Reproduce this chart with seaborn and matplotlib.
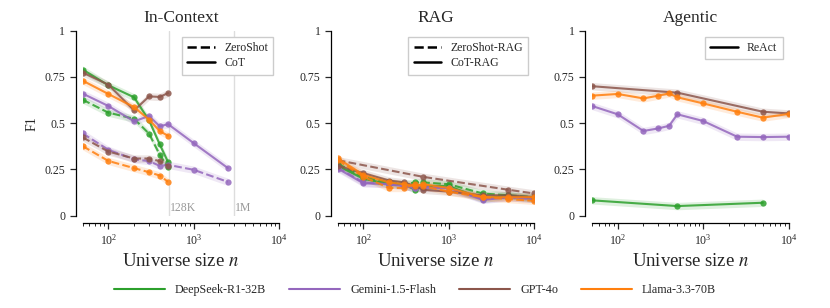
import numpy as np
import matplotlib
matplotlib.use('Agg')
import matplotlib.pyplot as plt
import seaborn as sns
from matplotlib.lines import Line2D

# ---- data ----
models = ['DeepSeek-R1-32B', 'Gemini-1.5-Flash', 'GPT-4o', 'Llama-3.3-70B']
colors = ['#2ca02c', '#9467bd', '#8c564b', '#ff7f0e']

# In-Context
ic_x = [50, 100, 200, 300, 400, 500, 1000, 2500]
ic_cot = {
    'DeepSeek-R1-32B': [0.79, 0.705, 0.64, 0.515, 0.385, 0.29],
    'Gemini-1.5-Flash': [0.66, 0.593, 0.51, 0.539, 0.483, 0.495, 0.392, 0.258],
    'GPT-4o': [0.774, 0.708, 0.569, 0.645, 0.642, 0.663],
    'Llama-3.3-70B': [0.73, 0.658, 0.587, 0.519, 0.457, 0.432],
}
ic_zs = {
    'DeepSeek-R1-32B': [0.627, 0.557, 0.524, 0.443, 0.329, 0.262],
    'Gemini-1.5-Flash': [0.445, 0.356, 0.305, 0.295, 0.269, 0.275, 0.248, 0.183],
    'GPT-4o': [0.423, 0.347, 0.309, 0.309, 0.295, 0.27],
    'Llama-3.3-70B': [0.376, 0.296, 0.257, 0.235, 0.217, 0.183],
}

# RAG
rag_x = [50, 100, 200, 300, 400, 500, 1000, 2500, 5000, 10000]
rag_cot = {
    'DeepSeek-R1-32B': [0.27, 0.20, 0.17, 0.17, 0.14, 0.16, 0.16, 0.09, 0.11, 0.09],
    'Gemini-1.5-Flash': [0.255, 0.175, 0.17, 0.16, 0.15, 0.15, 0.15, 0.085, 0.10, 0.09],
    'GPT-4o': [0.27, 0.23, 0.19, 0.18, 0.16, 0.14, 0.13, 0.11, 0.11, 0.10],
    'Llama-3.3-70B': [0.31, 0.22, 0.18, 0.17, 0.16, 0.17, 0.15, 0.10, 0.10, 0.10],
}
rag_zs = {
    'DeepSeek-R1-32B': [0.28, 0.21, 0.18, 0.17, 0.18, 0.18, 0.17, 0.12, 0.11, 0.10],
    'Gemini-1.5-Flash': [0.26, 0.18, 0.17, 0.16, 0.15, 0.16, 0.15, 0.09, 0.10, 0.09],
    'Llama-3.3-70B': [0.30, 0.21, 0.15, 0.15, 0.17, 0.16, 0.13, 0.10, 0.09, 0.08],
}
rag_gpt_zs_x = [50, 500, 5000, 10000]
rag_gpt_zs = [0.30, 0.21, 0.14, 0.12]

# Agentic (ReAct)
ag_x = [50, 100, 200, 300, 400, 500, 1000, 2500, 5000, 10000]
ag_react = {
    'Gemini-1.5-Flash': [0.593, 0.548, 0.458, 0.472, 0.486, 0.548, 0.512, 0.427, 0.425, 0.427],
    'Llama-3.3-70B': [0.649, 0.658, 0.634, 0.649, 0.661, 0.64, 0.607, 0.562, 0.53, 0.55],
}
ag_gpt_x = [50, 500, 5000, 10000]
ag_gpt = [0.70, 0.665, 0.562, 0.553]
ag_ds_x = [50, 500, 5000]
ag_ds = [0.083, 0.052, 0.07]

yticks = [0, 0.25, 0.5, 0.75, 1]
ytick_labels = ['0', '0.25', '0.5', '0.75', '1']

# ---- style ----
sns.set_theme(style='ticks')
plt.rcParams['font.family'] = ['Liberation Serif', 'DejaVu Serif']
plt.rcParams['mathtext.fontset'] = 'stix'

fig = plt.figure(figsize=(8.3, 3.08), dpi=100)
lefts = [0.0996, 0.4069, 0.7133]
axes = [fig.add_axes([l, 0.2997, 0.2367, 0.6006]) for l in lefts]
band = 0.02


def draw(ax, x, y, color, ls):
    x = x[:len(y)]
    sns.lineplot(x=x, y=y, ax=ax, color=color, linestyle=ls, marker='o',
                 markersize=4.5, markeredgewidth=0, linewidth=1.5, alpha=0.85)
    ax.fill_between(x, np.array(y) - band, np.array(y) + band,
                    color=color, alpha=0.15, linewidth=0)


# In-Context
ax = axes[0]
for m, c in zip(models, colors):
    draw(ax, ic_x, ic_zs[m], c, '--')
    draw(ax, ic_x, ic_cot[m], c, '-')
for xv, lab in [(512, '128K'), (3000, '1M')]:
    ax.axvline(xv, color='#dddddd', linewidth=1, zorder=0)
    ax.text(xv * 1.02, 0.01, lab, color='#999999', fontsize=8.5, va='bottom')

# RAG
ax = axes[1]
for m, c in zip(models, colors):
    if m == 'GPT-4o':
        draw(ax, rag_gpt_zs_x, rag_gpt_zs, c, '--')
    else:
        draw(ax, rag_x, rag_zs[m], c, '--')
    draw(ax, rag_x, rag_cot[m], c, '-')

# Agentic
ax = axes[2]
draw(ax, ag_ds_x, ag_ds, colors[0], '-')
draw(ax, ag_x, ag_react['Gemini-1.5-Flash'], colors[1], '-')
draw(ax, ag_gpt_x, ag_gpt, colors[2], '-')
draw(ax, ag_x, ag_react['Llama-3.3-70B'], colors[3], '-')

titles = ['In-Context', 'RAG', 'Agentic']
leg_labels = [['ZeroShot', 'CoT'], ['ZeroShot-RAG', 'CoT-RAG'], ['ReAct']]
for ax, t, labs in zip(axes, titles, leg_labels):
    ax.set_xscale('log')
    ax.set_xlim(50, 10000)
    ax.set_ylim(0, 1)
    ax.set_yticks(yticks)
    ax.set_yticklabels(ytick_labels)
    ax.tick_params(axis='both', labelsize=8.5, length=4, width=0.9)
    ax.tick_params(axis='x', which='minor', length=2.5, width=0.7)
    ax.set_title(t, fontsize=12.5, pad=6)
    ax.set_xlabel('Universe size $n$', fontsize=13.5)
    ax.set_ylabel('')
    handles = []
    for lab in labs:
        ls = '-' if ('CoT' in lab or lab == 'ReAct') else '--'
        handles.append(Line2D([], [], color='black', linestyle=ls, linewidth=1.8))
    ax.legend(handles, labs, loc='upper right', fontsize=8.5, handlelength=2.3,
              frameon=True, fancybox=False, framealpha=1, edgecolor='#cccccc',
              borderpad=0.45, labelspacing=0.3)
    sns.despine(ax=ax, offset=5)
    for s in ['left', 'bottom']:
        ax.spines[s].set_linewidth(0.9)
        ax.spines[s].set_color('black')

axes[0].set_ylabel('F1', fontsize=10)

model_handles = [Line2D([], [], color=c, linewidth=1.5) for c in colors]
fig.legend(model_handles, models, loc='center', bbox_to_anchor=(0.5, 0.058),
           ncol=4, frameon=False, fontsize=8.7, handlelength=4.2,
           handletextpad=0.85, columnspacing=1.9)

fig.savefig('out.png', dpi=100)
